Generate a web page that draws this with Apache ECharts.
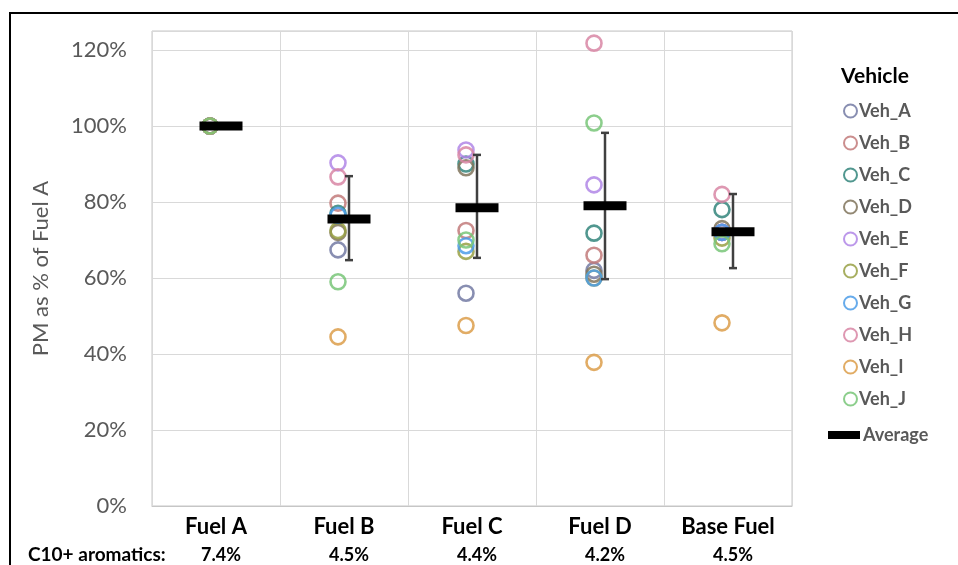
<!DOCTYPE html>
<html>
<head>
<meta charset="utf-8">
<script src="https://cdn.jsdelivr.net/npm/echarts@6/dist/echarts.min.js"></script>
<style>
  html, body { margin: 0; padding: 0; background: #fff; }
  .wrap { position: relative; width: 958px; height: 565px; overflow: hidden; }
  #chart { width: 958px; height: 565px; }
  .frame { position: absolute; left: 9px; top: 12px; width: 1000px; height: 600px; border: 2px solid #000; pointer-events: none; }
</style>
</head>
<body>
<div class="wrap">
  <div id="chart"></div>
  <div class="frame"></div>
</div>
<script>
  // fuels and C10+ aromatics content
  const fuels = ["Fuel A", "Fuel B", "Fuel C", "Fuel D", "Base Fuel"];
  const aromatics = ["7.4%", "4.5%", "4.4%", "4.2%", "4.5%"];
  const yTicks = [0, 0.2, 0.4, 0.6, 0.8, 1.0, 1.2];

  // PM relative to Fuel A, per vehicle
  const vehA = [1.0, 0.674, 0.56, 0.62, 0.72];
  const vehB = [1.0, 0.797, 0.725, 0.66, 0.72];
  const vehC = [1.0, 0.77, 0.90, 0.718, 0.78];
  const vehD = [1.0, 0.72, 0.89, 0.61, 0.73];
  const vehE = [1.0, 0.903, 0.937, 0.845, 0.72];
  const vehF = [1.0, 0.725, 0.67, 0.60, 0.705];
  const vehG = [1.0, 0.765, 0.685, 0.60, 0.72];
  const vehH = [1.0, 0.866, 0.924, 1.218, 0.82];
  const vehI = [1.0, 0.445, 0.475, 0.378, 0.482];
  const vehJ = [1.0, 0.59, 0.70, 1.008, 0.69];

  const average = [1.0, 0.755, 0.785, 0.79, 0.722];
  const errLow = [null, 0.647, 0.653, 0.597, 0.626];
  const errHigh = [null, 0.868, 0.924, 0.982, 0.821];

  const vehicles = [
    { name: "Veh_A", data: vehA, color: "#737aa3" },
    { name: "Veh_B", data: vehB, color: "#c27a7a" },
    { name: "Veh_C", data: vehC, color: "#33857b" },
    { name: "Veh_D", data: vehD, color: "#80745c" },
    { name: "Veh_E", data: vehE, color: "#b086e6" },
    { name: "Veh_F", data: vehF, color: "#98a044" },
    { name: "Veh_G", data: vehG, color: "#4c9ce8" },
    { name: "Veh_H", data: vehH, color: "#d886a4" },
    { name: "Veh_I", data: vehI, color: "#dc9e4a" },
    { name: "Veh_J", data: vehJ, color: "#78c678" },
  ];

  const font = "Lato, 'Open Sans', sans-serif";
  const chart = echarts.init(document.getElementById("chart"));

  const series = vehicles.map(function (v) {
    return {
      name: v.name,
      type: "scatter",
      symbol: "circle",
      symbolSize: 15,
      symbolOffset: [-6, 0],
      data: v.data,
      itemStyle: { color: "rgba(255,255,255,0)", borderColor: v.color, borderWidth: 2.6, opacity: 0.85 },
      z: 2,
    };
  });

  // error bars
  const errData = [];
  fuels.forEach(function (f, i) {
    if (errLow[i] != null) errData.push([i, errLow[i], errHigh[i]]);
  });
  series.push({
    name: "range",
    type: "custom",
    data: errData,
    z: 3,
    renderItem: function (params, api) {
      const x = api.coord([api.value(0), 0])[0] + 5;
      const yl = api.coord([api.value(0), api.value(1)])[1];
      const yh = api.coord([api.value(0), api.value(2)])[1];
      const st = { stroke: "#404040", lineWidth: 2.5 };
      return {
        type: "group",
        children: [
          { type: "line", shape: { x1: x, y1: yh, x2: x, y2: yl }, style: st },
          { type: "line", shape: { x1: x - 4, y1: yh, x2: x + 4, y2: yh }, style: st },
          { type: "line", shape: { x1: x - 4, y1: yl, x2: x + 4, y2: yl }, style: st },
        ],
      };
    },
  });

  series.push({
    name: "Average",
    type: "scatter",
    symbol: "rect",
    symbolSize: [43, 9],
    symbolOffset: [5, 0],
    data: average,
    itemStyle: { color: "#000", opacity: 1 },
    z: 4,
  });

  const option = {
    animation: false,
    backgroundColor: "#fff",
    grid: { left: 152, right: 166, top: 31, bottom: 59, show: true, borderColor: "#c6c6c6", borderWidth: 1 },
    title: {
      text: "Vehicle",
      left: 836,
      top: 61,
      textStyle: { fontFamily: font, fontWeight: "bold", fontSize: 21, color: "#000" },
    },
    legend: [
      {
        data: vehicles.map(function (v) { return v.name; }),
        orient: "vertical",
        left: 838,
        top: 96,
        itemWidth: 13,
        itemHeight: 13,
        itemGap: 12,
        textStyle: { fontFamily: font, fontWeight: "bold", fontSize: 18, color: "#595959", lineHeight: 20, padding: [0, 0, 0, -3] },
      },
      {
        data: [{ name: "Average", icon: "rect" }],
        orient: "vertical",
        left: 823,
        top: 421,
        itemWidth: 32,
        itemHeight: 8,
        textStyle: { fontFamily: font, fontWeight: "bold", fontSize: 18, color: "#595959", padding: [0, 0, 0, -2] },
      },
    ],
    graphic: [
      {
        type: "text",
        left: 28,
        top: 545,
        style: { text: "C10+ aromatics:", fill: "#000", font: "bold 19px " + font },
      },
    ],
    xAxis: {
      type: "category",
      data: fuels,
      boundaryGap: true,
      axisLine: { lineStyle: { color: "#c6c6c6" } },
      axisTick: { show: false },
      splitLine: { show: true, lineStyle: { color: "#d9d9d9" } },
      axisLabel: {
        margin: 6,
        interval: 0,
        formatter: function (v, i) {
          return "{a|" + v + "}\n{b|" + aromatics[i] + "}";
        },
        rich: {
          a: { fontFamily: font, fontWeight: "bold", fontSize: 22, color: "#000", lineHeight: 30 },
          b: { fontFamily: font, fontWeight: "bold", fontSize: 18, color: "#000", lineHeight: 26, padding: [0, 0, 0, 10] },
        },
      },
    },
    yAxis: {
      type: "value",
      min: 0,
      max: 1.25,
      interval: 0.2,
      name: "PM as % of Fuel A",
      nameLocation: "middle",
      nameGap: 100,
      nameTextStyle: { fontFamily: font, fontSize: 22, color: "#595959" },
      axisLine: { show: false },
      axisTick: { show: false },
      splitLine: { lineStyle: { color: "#d9d9d9" } },
      axisLabel: {
        margin: 25,
        showMaxLabel: false,
        fontFamily: font,
        fontSize: 22,
        color: "#595959",
        formatter: function (v) {
          return yTicks.some(function (t) { return Math.abs(t - v) < 1e-6; }) ? Math.round(v * 100) + "%" : "";
        },
      },
    },
    series: series,
  };
  chart.setOption(option);
</script>
</body>
</html>
